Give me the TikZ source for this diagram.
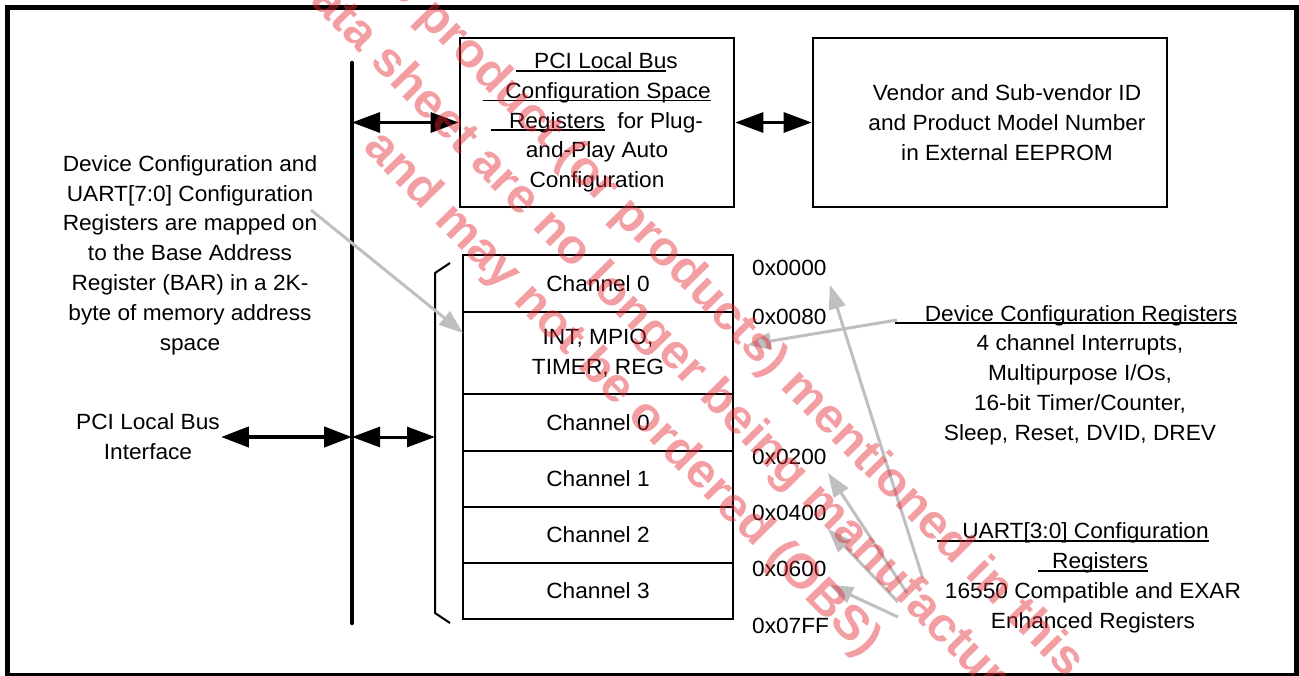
\documentclass[tikz,border=0pt]{standalone}
\usepackage{fontspec}
\setmainfont[FakeStretch=1.03]{Liberation Sans}
\usepackage{tikz}
\usetikzlibrary{arrows.meta,calc,positioning}
\definecolor{wmred}{RGB}{228,40,50}
\newcommand{\undl}[1]{\setbox0\hbox{#1}\rlap{\rule[-3pt]{\wd0}{1.8pt}}\box0}

\begin{document}
\begin{tikzpicture}[x=1pt,y=-1pt,
	every node/.style={font=\fontsize{22}{29.8}\selectfont,inner sep=1pt},
	box/.style={draw,line width=2.7pt,minimum height=169pt,inner sep=0pt},
	row/.style={draw,line width=2.7pt,minimum width=270pt,inner sep=0pt,outer sep=0pt,align=center},
	addr/.style={anchor=west,inner sep=0pt},
	bigarrow/.style={<->,>={Triangle[length=28pt,width=20pt]},line width=3pt},
	ptr/.style={->,>={Triangle[length=24pt,width=17pt]},draw=gray!50,line width=3pt},
	wmark/.style={text=wmred,text opacity=0.45,font=\fontsize{48}{65}\selectfont\bfseries,align=center,rotate=-45.5}]
	\useasboundingbox (0,0) rectangle (1299,676);
	\draw[line width=4.5pt] (7.5,7.5) rectangle (1296.5,675);

	% PCI side
	\node[box,minimum width=274pt,align=center] (pci) at (597,122.5)
		{\undl{\hspace*{18pt}PCI Local Bu}s\\\undl{\hspace*{22pt}Configuration Space}\\\undl{\hspace*{18pt}Registers}\ \ for Plug-\\and-Play Auto\\Configuration};
	\node[box,minimum width=354pt] (eeprom) at (990,122.5) {};
	\node[align=center] (eepromtxt) at ([xshift=17pt]eeprom.center)
		{Vendor and Sub-vendor ID\\and Product Model Number\\in External EEPROM};
	\node[align=center] (cfgtxt) at (190,255)
		{Device Configuration and\\UART[7:0] Configuration\\Registers are mapped on\\to the Base Address\\Register (BAR) in a 2K-\\byte of memory address\\space};
	\node[align=center] (iface) at (148,437) {PCI Local Bus\\Interface};

	% memory map
	\node[row,minimum height=57pt] (ch0) at (598,283.5) {Channel 0};
	\node[row,minimum height=82pt,below=0pt of ch0] (intr) {INT, MPIO,\\TIMER, REG};
	\node[row,minimum height=57pt,below=0pt of intr] (ch0b) {Channel 0};
	\node[row,minimum height=56pt,below=0pt of ch0b] (ch1) {Channel 1};
	\node[row,minimum height=56pt,below=0pt of ch1] (ch2) {Channel 2};
	\node[row,minimum height=56pt,below=0pt of ch2] (ch3) {Channel 3};

	\node[addr] (a0000) at (752,268) {0x0000};
	\node[addr] (a0080) at (752,317) {0x0080};
	\node[addr] (a0200) at (752,457) {0x0200};
	\node[addr] (a0400) at (752,513) {0x0400};
	\node[addr] (a0600) at (752,569) {0x0600};
	\node[addr] (a07ff) at (752,626) {0x07FF};

	\node[align=center] (devtxt) at (1080,375)
		{\undl{\hspace*{30pt}Device Configuration Registers}\hspace*{28pt}\\4 channel Interrupts,\\Multipurpose I/Os,\\16-bit Timer/Counter,\\Sleep, Reset, DVID, DREV};
	\node[align=center] (uarttxt) at (1093,578)
		{\undl{\hspace*{25pt}UART[3:0] Configuration}\hspace*{40pt}\\\undl{\hspace*{14pt}Registers}\hspace*{40pt}\\16550 Compatible and EXAR\\Enhanced Registers};

	% bus and bracket
	\coordinate (bustop) at (352,63);
	\coordinate (busbot) at (352,623);
	\draw[line width=4.5pt,line cap=round] (bustop) -- (busbot);
	\coordinate (brtop) at (435,273);
	\coordinate (brbot) at (435,613);
	\draw[line width=2pt] ([xshift=15pt,yshift=10pt]brtop) -- (brtop) -- (brbot) -- ([xshift=15pt,yshift=-10pt]brbot);

	\draw[bigarrow] (bustop |- pci.west) -- (pci.west);
	\draw[bigarrow] (pci.east) -- (eeprom.west);
	\draw[bigarrow,line width=4.5pt] (iface.east) -- (iface.east -| bustop);
	\draw[bigarrow] (iface.east -| bustop) -- (iface.east -| brtop);

	% pointers
	\coordinate (cfgtail) at (311,210);
	\coordinate (devtail) at (897,320);
	\coordinate (devtip) at (747,345);
	\coordinate (u1) at (922.7,578);
	\coordinate (u2) at (907,593);
	\coordinate (u3) at (898,602);
	\coordinate (u4) at (898,617);
	\coordinate (t1) at (830,285);
	\coordinate (t2) at (828,473);
	\coordinate (t3) at (828,529);
	\coordinate (t4) at (829,585);
	\draw[ptr] (cfgtail) -- ([yshift=20pt]intr.west);
	\draw[ptr] (devtail) -- (devtip);
	\draw[ptr] (u1) -- (t1);
	\draw[ptr] (u2) -- (t2);
	\draw[ptr] (u3) -- (t3);
	\draw[ptr] (u4) -- (t4);

	% watermark
	\begin{scope}
		\clip (0,0) rectangle (1299,676);
		\node[wmark] (wm) at (668,349) {The product (or products) mentioned in this\\data sheet are no longer being manufactured\\and may not be ordered (OBS)};
	\end{scope}
\end{tikzpicture}
\end{document}
